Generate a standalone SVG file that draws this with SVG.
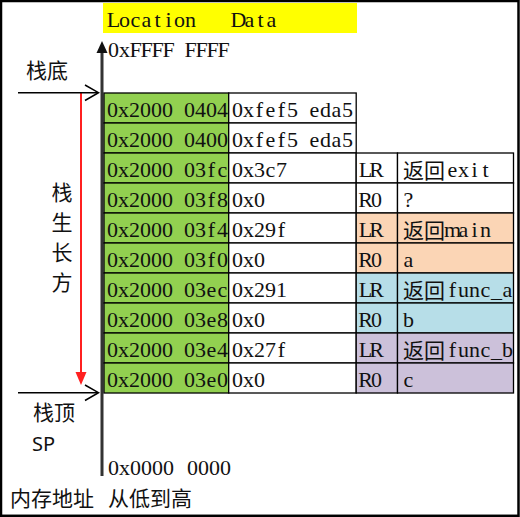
<svg xmlns="http://www.w3.org/2000/svg" width="520" height="517" viewBox="0 0 520 517">
<style>
.t{font-family:"Liberation Serif","Noto Sans CJK SC",serif;font-size:22px;fill:#111;text-anchor:middle}
.c{font-family:"Noto Sans CJK SC",sans-serif;font-size:21px;fill:#111}
.cell{stroke:#000;stroke-width:1.3}
.g{fill:#92D050}.w{fill:#fff}.p{fill:#FBD5B5}.b{fill:#B7DEE8}.l{fill:#CCC1DA}
.ln{stroke:#000;stroke-width:1.5;fill:none}
</style>
<rect x="0" y="0" width="520" height="517" fill="#fff"/>
<rect x="1" y="1" width="517.5" height="514.8" fill="none" stroke="#000" stroke-width="2.5"/>

<g id="header">
<rect x="103" y="3" width="254" height="30" fill="#FFFF00"/>
<text class="t" x="113.5 124.5 135.5 146.5 157.5 168.5 179.5 190.5" y="26.5">Location</text>
<text class="t" x="238.5 249.5 260.5 271.5" y="26.5">Data</text>
</g>

<g id="addr-top"><text class="t" x="113.5 124.5 135.5 146.5 157.5 168.5 179.5 190.5 201.5 212.5 223.5" y="56.5">0xFFFF FFFF</text></g>
<g id="addr-bottom"><text class="t" x="113.5 124.5 135.5 146.5 157.5 168.5 179.5 192.5 203.5 214.5 225.5" y="475">0x0000 0000</text></g>

<g id="connectors">
<line x1="102" y1="50" x2="102" y2="476" stroke="#333" stroke-width="3"/>
<polygon points="102,41 96.5,53 107.5,53" fill="#111"/>
<line x1="81" y1="93" x2="81" y2="374" stroke="#FF2020" stroke-width="2"/>
<polygon points="81,385 75.5,372 86.5,372" fill="#FF2020"/>
<line class="ln" x1="18" y1="92.7" x2="98" y2="92.7"/>
<polyline class="ln" points="85,85 98.5,92.7 85,100.5"/>
<line class="ln" x1="18" y1="392.7" x2="98" y2="392.7"/>
<polyline class="ln" points="85,385 98.5,392.7 85,400.5"/>
</g>

<g id="label-bottom-stack"><text class="c" x="26" y="78">栈底</text></g>
<g id="label-top-stack"><text class="c" x="33" y="419.5">栈顶</text>
<text x="32" y="450.5" font-family="'Noto Sans',sans-serif" font-size="20" fill="#111">SP</text></g>
<g id="label-grow">
<text class="c" x="62" y="200" text-anchor="middle" font-size="20">栈</text>
<text class="c" x="62" y="230" text-anchor="middle" font-size="20">生</text>
<text class="c" x="62" y="260" text-anchor="middle" font-size="20">长</text>
<text class="c" x="62" y="290" text-anchor="middle" font-size="20">方</text>
</g>
<g id="label-memory">
<text class="c" x="10" y="506" font-size="21.5">内存地址</text>
<text class="c" x="108" y="506" font-size="21.5">从低到高</text>
</g>

<g id="row-0404">
<rect class="cell g" x="104" y="93" width="124.7" height="30"/>
<rect class="cell w" x="228.7" y="93" width="127.5" height="30"/>
<text class="t" x="112.5 123.5 134.5 145.5 156.5 167.5 178.5 189.5 200.5 211.5 222.5" y="116.5">0x2000 0404</text>
<text class="t" x="237.5 248.5 259.5 270.5 281.5 292.5 303.5 314.5 325.5 336.5 347.5" y="116.5">0xfef5 eda5</text>
</g>
<g id="row-0400">
<rect class="cell g" x="104" y="123" width="124.7" height="30"/>
<rect class="cell w" x="228.7" y="123" width="127.5" height="30"/>
<text class="t" x="112.5 123.5 134.5 145.5 156.5 167.5 178.5 189.5 200.5 211.5 222.5" y="146.5">0x2000 0400</text>
<text class="t" x="237.5 248.5 259.5 270.5 281.5 292.5 303.5 314.5 325.5 336.5 347.5" y="146.5">0xfef5 eda5</text>
</g>
<g id="row-03fc">
<rect class="cell g" x="104" y="153" width="124.7" height="30"/>
<rect class="cell w" x="228.7" y="153" width="127.5" height="30"/>
<rect class="cell w" x="356.2" y="153" width="41.3" height="30"/>
<rect class="cell w" x="397.5" y="153" width="116" height="30"/>
<text class="t" x="112.5 123.5 134.5 145.5 156.5 167.5 178.5 189.5 200.5 211.5 222.5" y="176.5">0x2000 03fc</text>
<text class="t" x="237.5 248.5 259.5 270.5 281.5" y="176.5">0x3c7</text>
<text class="t" x="365.5 376.5" y="176.5">LR</text>
<text class="c" x="403" y="177.5">返回</text>
<text class="t" x="452.5 463.5 474.5 485.5" y="176.5">exit</text>
</g>
<g id="row-03f8">
<rect class="cell g" x="104" y="183" width="124.7" height="30"/>
<rect class="cell w" x="228.7" y="183" width="127.5" height="30"/>
<rect class="cell w" x="356.2" y="183" width="41.3" height="30"/>
<rect class="cell w" x="397.5" y="183" width="116" height="30"/>
<text class="t" x="112.5 123.5 134.5 145.5 156.5 167.5 178.5 189.5 200.5 211.5 222.5" y="206.5">0x2000 03f8</text>
<text class="t" x="237.5 248.5 259.5" y="206.5">0x0</text>
<text class="t" x="365.5 376.5" y="206.5">R0</text>
<text class="t" x="408.5" y="206.5">?</text>
</g>
<g id="row-03f4">
<rect class="cell g" x="104" y="213" width="124.7" height="30"/>
<rect class="cell w" x="228.7" y="213" width="127.5" height="30"/>
<rect class="cell p" x="356.2" y="213" width="41.3" height="30"/>
<rect class="cell p" x="397.5" y="213" width="116" height="30"/>
<text class="t" x="112.5 123.5 134.5 145.5 156.5 167.5 178.5 189.5 200.5 211.5 222.5" y="236.5">0x2000 03f4</text>
<text class="t" x="237.5 248.5 259.5 270.5 281.5" y="236.5">0x29f</text>
<text class="t" x="365.5 376.5" y="236.5">LR</text>
<text class="c" x="403" y="237.5">返回</text>
<text class="t" x="452.5 463.5 474.5 485.5" y="236.5">main</text>
</g>
<g id="row-03f0">
<rect class="cell g" x="104" y="243" width="124.7" height="30"/>
<rect class="cell w" x="228.7" y="243" width="127.5" height="30"/>
<rect class="cell p" x="356.2" y="243" width="41.3" height="30"/>
<rect class="cell p" x="397.5" y="243" width="116" height="30"/>
<text class="t" x="112.5 123.5 134.5 145.5 156.5 167.5 178.5 189.5 200.5 211.5 222.5" y="266.5">0x2000 03f0</text>
<text class="t" x="237.5 248.5 259.5" y="266.5">0x0</text>
<text class="t" x="365.5 376.5" y="266.5">R0</text>
<text class="t" x="408.5" y="266.5">a</text>
</g>
<g id="row-03ec">
<rect class="cell g" x="104" y="273" width="124.7" height="30"/>
<rect class="cell w" x="228.7" y="273" width="127.5" height="30"/>
<rect class="cell b" x="356.2" y="273" width="41.3" height="30"/>
<rect class="cell b" x="397.5" y="273" width="116" height="30"/>
<text class="t" x="112.5 123.5 134.5 145.5 156.5 167.5 178.5 189.5 200.5 211.5 222.5" y="296.5">0x2000 03ec</text>
<text class="t" x="237.5 248.5 259.5 270.5 281.5" y="296.5">0x291</text>
<text class="t" x="365.5 376.5" y="296.5">LR</text>
<text class="c" x="403" y="297.5">返回</text>
<text class="t" x="452.5 463.5 474.5 485.5 496.5 507.5" y="296.5">func_a</text>
</g>
<g id="row-03e8">
<rect class="cell g" x="104" y="303" width="124.7" height="30"/>
<rect class="cell w" x="228.7" y="303" width="127.5" height="30"/>
<rect class="cell b" x="356.2" y="303" width="41.3" height="30"/>
<rect class="cell b" x="397.5" y="303" width="116" height="30"/>
<text class="t" x="112.5 123.5 134.5 145.5 156.5 167.5 178.5 189.5 200.5 211.5 222.5" y="326.5">0x2000 03e8</text>
<text class="t" x="237.5 248.5 259.5" y="326.5">0x0</text>
<text class="t" x="365.5 376.5" y="326.5">R0</text>
<text class="t" x="408.5" y="326.5">b</text>
</g>
<g id="row-03e4">
<rect class="cell g" x="104" y="333" width="124.7" height="30"/>
<rect class="cell w" x="228.7" y="333" width="127.5" height="30"/>
<rect class="cell l" x="356.2" y="333" width="41.3" height="30"/>
<rect class="cell l" x="397.5" y="333" width="116" height="30"/>
<text class="t" x="112.5 123.5 134.5 145.5 156.5 167.5 178.5 189.5 200.5 211.5 222.5" y="356.5">0x2000 03e4</text>
<text class="t" x="237.5 248.5 259.5 270.5 281.5" y="356.5">0x27f</text>
<text class="t" x="365.5 376.5" y="356.5">LR</text>
<text class="c" x="403" y="357.5">返回</text>
<text class="t" x="452.5 463.5 474.5 485.5 496.5 507.5" y="356.5">func_b</text>
</g>
<g id="row-03e0">
<rect class="cell g" x="104" y="363" width="124.7" height="30"/>
<rect class="cell w" x="228.7" y="363" width="127.5" height="30"/>
<rect class="cell l" x="356.2" y="363" width="41.3" height="30"/>
<rect class="cell l" x="397.5" y="363" width="116" height="30"/>
<text class="t" x="112.5 123.5 134.5 145.5 156.5 167.5 178.5 189.5 200.5 211.5 222.5" y="386.5">0x2000 03e0</text>
<text class="t" x="237.5 248.5 259.5" y="386.5">0x0</text>
<text class="t" x="365.5 376.5" y="386.5">R0</text>
<text class="t" x="408.5" y="386.5">c</text>
</g>
</svg>
